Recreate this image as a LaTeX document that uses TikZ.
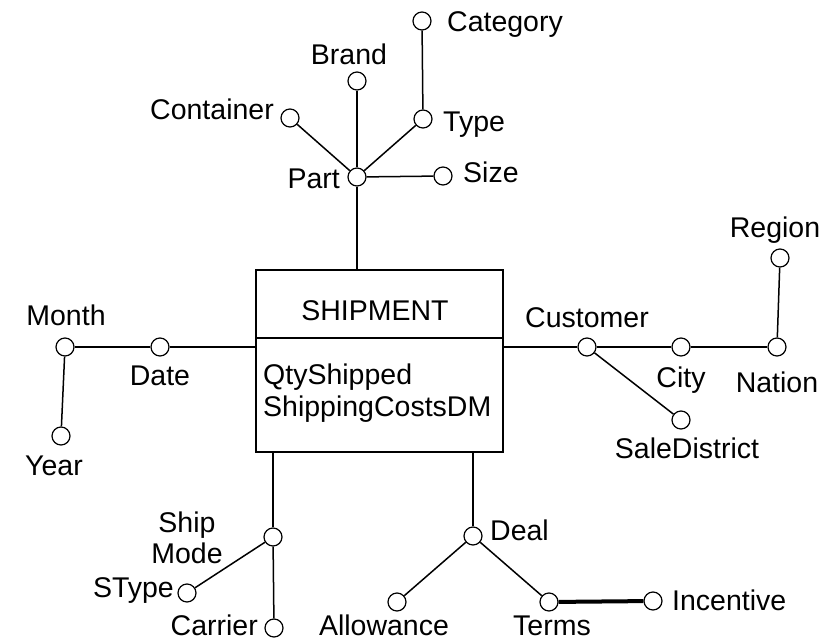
\documentclass[tikz,border=0pt]{standalone}
\usepackage{fontspec}
\setmainfont{Liberation Sans}
\begin{document}
\begin{tikzpicture}[x=1pt,y=-1pt,
  every node/.style={inner sep=0pt},
  attr/.style={circle,draw,fill=white,line width=1.2pt,minimum size=18pt},
  lbl/.style={font=\fontsize{28.5}{33}\selectfont},
  edge/.style={line width=1.5pt},
  strong/.style={line width=4pt}]
\useasboundingbox (0,0) rectangle (833,640);

% fact box
\node[draw,line width=1.5pt,minimum width=247pt,minimum height=182pt] (box) at (379.5,361) {};
\coordinate (divL) at (256,338);
\coordinate (divR) at (503,338);
\draw[edge] (divL) -- (divR);
\node[lbl,anchor=base] (fact) at (375,320) {SHIPMENT};
\node[lbl,anchor=base west] (m1) at (263,384) {QtyShipped};
\node[lbl,anchor=base west] (m2) at (263,416) {ShippingCostsDM};

% part hierarchy
\node[attr] (part) at (357,177) {};
\node[attr] (brand) at (357,81) {};
\node[attr] (cat) at (422,21) {};
\node[attr] (type) at (423,119) {};
\node[attr] (cont) at (290,118) {};
\node[attr] (size) at (443,176) {};
\draw[edge] (part) -- (part |- box.north);
\draw[edge] (part) -- (brand);
\draw[edge] (part) -- (type);
\draw[edge] (part) -- (cont);
\draw[edge] (part) -- (size);
\draw[edge] (type) -- (cat);
\node[lbl,anchor=base east] (tpart) at (340,188) {Part};
\node[lbl,anchor=base] (tbrand) at (349,64) {Brand};
\node[lbl,anchor=base west] (tcat) at (447,31) {Category};
\node[lbl,anchor=base west] (ttype) at (443,131) {Type};
\node[lbl,anchor=base east] (tcont) at (274,119) {Container};
\node[lbl,anchor=base west] (tsize) at (463,182) {Size};

% date hierarchy
\node[attr] (date) at (160,347) {};
\node[attr] (month) at (65,347) {};
\node[attr] (year) at (61,436) {};
\draw[edge] (date) -- (date -| box.west);
\draw[edge] (date) -- (month);
\draw[edge] (month) -- (year);
\node[lbl,anchor=base] (tmonth) at (66,325) {Month};
\node[lbl,anchor=base] (tdate) at (160,385) {Date};
\node[lbl,anchor=base] (tyear) at (54,475) {Year};

% customer hierarchy
\node[attr] (cust) at (587,347) {};
\node[attr] (city) at (681,347) {};
\node[attr] (nation) at (777,347) {};
\node[attr] (region) at (780,258) {};
\node[attr] (sdist) at (681,420) {};
\draw[edge] (cust) -- (cust -| box.east);
\draw[edge] (cust) -- (city);
\draw[edge] (city) -- (nation);
\draw[edge] (nation) -- (region);
\draw[edge] (cust) -- (sdist);
\node[lbl,anchor=base] (tcust) at (587,327) {Customer};
\node[lbl,anchor=base] (tcity) at (681,387) {City};
\node[lbl,anchor=base] (tnation) at (777,392) {Nation};
\node[lbl,anchor=base] (tregion) at (775,237) {Region};
\node[lbl,anchor=base] (tsdist) at (687,458) {SaleDistrict};

% ship mode hierarchy
\node[attr] (ship) at (273,537) {};
\node[attr] (stype) at (187,593) {};
\node[attr] (carrier) at (274,628) {};
\draw[edge] (ship) -- (ship |- box.south);
\draw[edge] (ship) -- (stype);
\draw[edge] (ship) -- (carrier);
\node[lbl,anchor=base] (tship) at (187,532) {Ship};
\node[lbl,anchor=base] (tmode) at (187,563) {Mode};
\node[lbl,anchor=base east] (tstype) at (174,597) {SType};
\node[lbl,anchor=base east] (tcarrier) at (258,635) {Carrier};

% deal hierarchy
\node[attr] (deal) at (473,536) {};
\node[attr] (allow) at (397,602) {};
\node[attr] (terms) at (549,602) {};
\node[attr] (incent) at (653,601) {};
\draw[edge] (deal) -- (deal |- box.south);
\draw[edge] (deal) -- (allow);
\draw[edge] (deal) -- (terms);
\draw[strong] (terms) -- (incent);
\node[lbl,anchor=base west] (tdeal) at (490,540) {Deal};
\node[lbl,anchor=base] (tallow) at (384,635) {Allowance};
\node[lbl,anchor=base] (tterms) at (552,635) {Terms};
\node[lbl,anchor=base west] (tincent) at (672,610) {Incentive};
\end{tikzpicture}
\end{document}
